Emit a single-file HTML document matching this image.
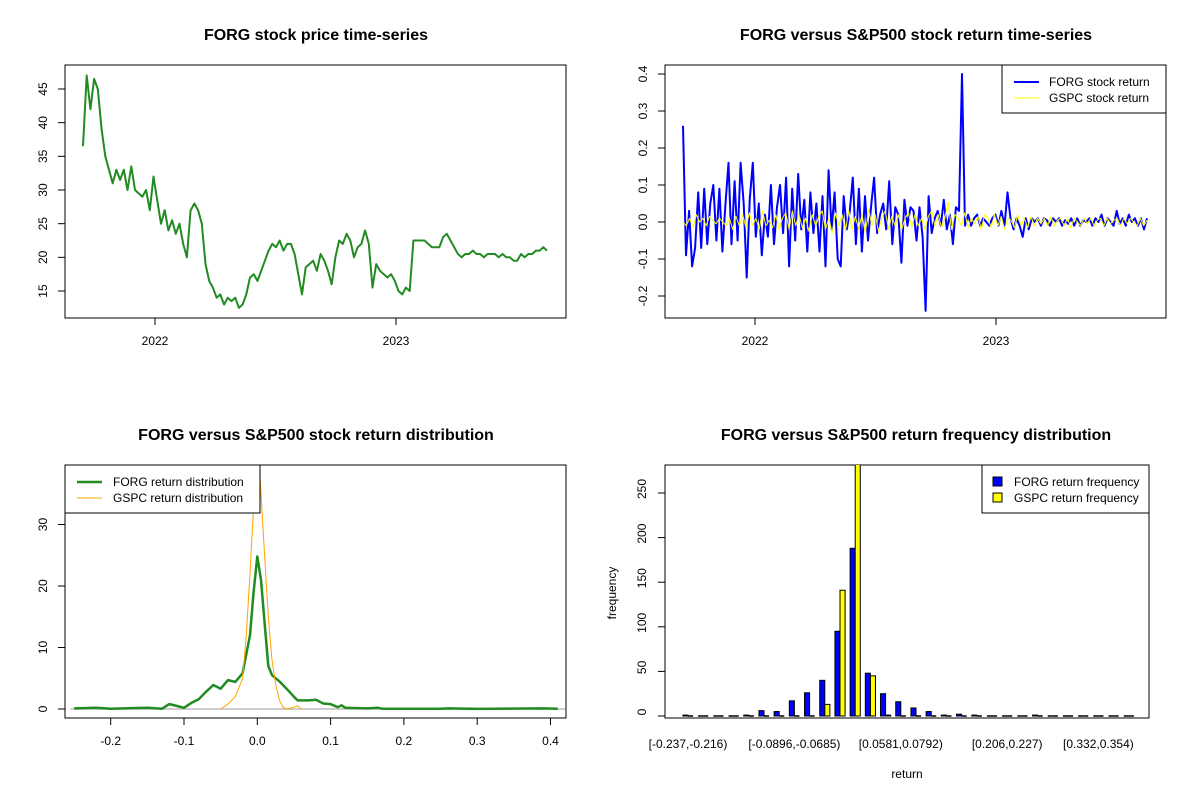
<!DOCTYPE html>
<html><head><meta charset="utf-8"><style>
body{margin:0;background:#fff;}
svg{display:block;font-family:"Liberation Sans",Arial,sans-serif;}
.t{font-weight:bold;font-size:16px;text-anchor:middle;}
.tk{font-size:12px;}
</style></head><body>
<svg id="s" width="1200" height="800" viewBox="0 0 1200 800">
<rect width="1200" height="800" fill="#fff"/>
<defs>
<clipPath id="c1"><rect x="65" y="65" width="501" height="253"/></clipPath>
<clipPath id="c2"><rect x="665" y="65" width="501" height="253"/></clipPath>
<clipPath id="c3"><rect x="65" y="465" width="501" height="253"/></clipPath>
<clipPath id="c4"><rect x="665" y="465" width="484" height="253"/></clipPath>
</defs>
<text class="t" x="316" y="40">FORG stock price time-series</text>
<text class="t" x="916" y="40">FORG versus S&amp;P500 stock return time-series</text>
<text class="t" x="316" y="440">FORG versus S&amp;P500 stock return distribution</text>
<text class="t" x="916" y="440">FORG versus S&amp;P500 return frequency distribution</text>
<g id="g1"></g>
<g id="g2"></g>
<g id="g3"></g>
<g id="g4"></g>
</svg>
<script>
const priceValues=[36.5,47,42,46.5,45,39,35,33,31,33,31.5,33,30,33.5,30,29.5,29,30,27,32,28.5,25,27,24,25.5,23.5,25,22,20,27,28,27,25,19,16.5,15.5,14,14.5,13,14,13.5,14,12.5,13,14.5,17,17.5,16.5,18,19.5,21,22,21.5,22.5,21,22,22,20.5,17.5,14.5,18.5,19,19.5,18,20.5,19.5,18,16,20,22.5,22,23.5,22.5,20,21.5,22,24,22,15.5,19,18,17.5,17,17.5,16.5,15,14.5,15.5,15,22.5,22.5,22.5,22.5,22,21.5,21.5,21.5,23,23.5,22.5,21.5,20.5,20,20.5,20.5,21,20.5,20.5,20,20.5,20.5,20.5,20,20.5,20,20,19.5,19.5,20.5,20,20.5,20.5,21,21,21.5,21];
const priceTicks=[15,20,25,30,35,40,45];
const yearTicks=["2022","2023"];
const forgReturns=[0.26,-0.09,0.03,-0.12,-0.07,0.08,-0.07,0.09,-0.06,0.05,0.1,-0.05,0.09,-0.08,0.05,0.16,-0.06,0.11,-0.05,0.16,0.05,-0.15,0.06,0.16,-0.04,0.05,-0.09,0.02,-0.04,0.1,-0.06,0.04,0.1,-0.03,0.12,-0.12,0.09,-0.05,0.13,-0.02,0.06,-0.08,0.08,-0.03,0.05,-0.08,0.07,-0.12,0.14,-0.02,0.08,-0.1,-0.12,0.07,-0.02,0.03,0.12,-0.06,0.09,-0.08,0.07,-0.05,0.04,0.12,-0.03,0.02,0.05,-0.02,0.11,-0.06,0.04,0.02,-0.11,0.06,-0.01,0.04,0.03,-0.05,0.04,-0.04,-0.24,0.07,-0.03,0.01,0.03,-0.01,0.06,-0.02,0.02,-0.06,0.04,0.03,0.4,-0.01,0.02,-0.01,0.01,0.02,-0.01,0.01,0.0,-0.01,0.01,0.02,-0.01,0.03,-0.01,0.08,0.01,-0.02,0.01,-0.01,-0.04,0.01,-0.02,0.01,0.0,0.01,-0.01,0.01,0.005,-0.01,0.01,0.0,0.01,-0.01,0.005,-0.005,0.01,-0.01,0.01,-0.01,0.005,0.0,0.01,-0.01,0.01,0.0,0.02,-0.01,0.01,0.0,-0.01,0.03,-0.005,0.01,-0.01,0.02,0.0,0.01,-0.01,0.01,-0.02,0.01];
const gspcReturns=[0,-0.01,0.01,-0.015,0.02,0,0.01,-0.01,0.015,0.005,-0.005,0.01,0,-0.01,0.01,-0.02,0.015,-0.01,0.02,-0.015,0.025,-0.01,0.01,-0.02,0.03,-0.01,0.005,-0.015,0.02,-0.02,0.01,0.025,-0.02,0.03,-0.01,0.02,-0.015,0.01,-0.025,0.02,-0.01,0.015,0.03,-0.02,0.01,-0.03,0.025,-0.01,0.02,-0.025,0.03,-0.02,0.015,-0.02,0.02,-0.03,0.035,-0.01,0.02,-0.025,0.01,0.03,-0.02,0.015,-0.01,0.02,-0.02,0.01,0.025,-0.015,0.02,-0.01,0.01,-0.02,0.015,0.03,-0.01,0.02,-0.015,0.01,0.055,-0.02,0.02,0.01,-0.01,0.025,-0.015,0.01,-0.005,0.015,-0.02,0.02,0.01,-0.015,0.02,-0.01,0.015,-0.02,0.01,0.005,-0.015,0.02,-0.01,0.01,-0.015,0.015,-0.01,0.01,-0.005,0.01,-0.01,0.015,-0.01,0.005,0.01,-0.01,0.01,-0.015,0.01,0,-0.01,0.01,-0.005,0.01,-0.01,0.005,0.01,-0.01,0.01,-0.005,0.005,0.01,-0.01,0.01,-0.005,0.01,0,-0.01,0.01,-0.01,0.005];
const returnTicks=[-0.2,-0.1,0,0.1,0.2,0.3,0.4];
const forgDensX=[-0.25,-0.22,-0.2,-0.15,-0.13,-0.12,-0.11,-0.1,-0.09,-0.08,-0.07,-0.06,-0.05,-0.04,-0.03,-0.02,-0.01,-0.005,0,0.005,0.01,0.015,0.02,0.03,0.04,0.05,0.055,0.07,0.08,0.09,0.1,0.11,0.115,0.12,0.15,0.165,0.17,0.25,0.26,0.3,0.39,0.41];
const forgDensY=[0.1,0.2,0.05,0.2,0.05,0.8,0.5,0.2,1,1.6,2.8,3.9,3.3,4.7,4.4,5.8,12,19,24.8,21,14,7,5.5,4.5,3.3,2,1.4,1.4,1.5,0.9,0.8,0.3,0.6,0.2,0.1,0.2,0.05,0.05,0.1,0.02,0.1,0.05];
const gspcDensX=[-0.05,-0.04,-0.03,-0.02,-0.015,-0.01,-0.005,0,0.005,0.01,0.015,0.02,0.025,0.03,0.035,0.04,0.05,0.055,0.06];
const gspcDensY=[0,0.8,2,5,12,22,33,45,35,25,15,8,4,1.5,0.3,0,0.3,0.5,0];
const densXTicks=[-0.2,-0.1,0,0.1,0.2,0.3,0.4];
const densYTicks=[0,10,20,30];
const binLabels=["[-0.237,-0.216)","[-0.0896,-0.0685)","[0.0581,0.0792)","[0.206,0.227)","[0.332,0.354)"];
const binLabelIdx=[0,7,14,21,27];
const forgFreq=[1,0,0,0,1,6,5,17,26,40,95,188,48,25,16,9,5,1,2,1,0,0,0,1,0,0,0,0,0,0];
const gspcFreq=[0,0,0,0,0,0,0,0,0,13,141,300,45,1,0,0,0,0,0,0,0,0,0,0,0,0,0,0,0,0];
const freqTicks=[0,50,100,150,200,250];

const NS="http://www.w3.org/2000/svg";
function mk(p,tag,a,txt){const e=document.createElementNS(NS,tag);for(const k in a)e.setAttribute(k,a[k]);if(txt!==undefined)e.textContent=txt;p.appendChild(e);return e;}
function box(g,x,y,w,h){const r=mk(g,'rect',{x:x,y:y,width:w,height:h,fill:'none',stroke:'#000','stroke-width':1});}
function yAxis(g,ticks,sy,x0,fmt){
 const ln=mk(g,'line',{x1:x0,x2:x0,y1:sy(ticks[0]),y2:sy(ticks[ticks.length-1]),stroke:'#000'});
 
 ticks.forEach(v=>{const y=sy(v);mk(g,'line',{x1:x0-7,x2:x0,y1:y,y2:y,stroke:'#000'});
 const t=mk(g,'text',{class:'tk',x:x0-18,y:y,'text-anchor':'middle',transform:`rotate(-90 ${x0-18} ${y})`},fmt(v));
 });
}
function xAxis(g,ticks,sx,y0,fmt){
 const ln=mk(g,'line',{x1:sx(ticks[0]),x2:sx(ticks[ticks.length-1]),y1:y0,y2:y0,stroke:'#000'});
 
 ticks.forEach(v=>{const x=sx(v);mk(g,'line',{x1:x,x2:x,y1:y0,y2:y0+7,stroke:'#000'});
 const t=mk(g,'text',{class:'tk',x:x,y:y0+27,'text-anchor':'middle'},fmt(v));
 });
}
function path(g,xs,ys,color,w,clip,name){
 let d='';xs.forEach((x,i)=>{d+=(i?'L':'M')+x.toFixed(1)+','+ys[i].toFixed(1);});
 const p=mk(g,'path',{d:d,fill:'none',stroke:color,'stroke-width':w,'clip-path':`url(#${clip})`,'stroke-linejoin':'round'});
 
}
const f1=v=>v.toFixed(1);

{const g=document.getElementById('g1');
 const sy=v=>291-(v-15)*6.733;
 const x0=83,x1=547;const sx=i=>x0+(x1-x0)*i/(priceValues.length-1);
 box(g,65,65,501,253);
 yAxis(g,priceTicks,sy,65,v=>String(v));
 const yearX=y=>155+241*(+y-2022);
 xAxis(g,yearTicks,yearX,318,v=>v);
 path(g,priceValues.map((v,i)=>sx(i)),priceValues.map(sy),'#228B22',2,'c1','price-line');}

{const g=document.getElementById('g2');
 const sy=v=>222-v*370;
 box(g,665,65,501,253);
 yAxis(g,returnTicks,sy,665,f1);
 xAxis(g,yearTicks,y=>755+241*(+y-2022),318,v=>v);
 const x0=683,x1=1147;
 path(g,forgReturns.map((v,i)=>x0+(x1-x0)*i/(forgReturns.length-1)),forgReturns.map(sy),'#0000FF',2,'c2','forg-return-line');
 path(g,gspcReturns.map((v,i)=>x0+(x1-x0)*i/(gspcReturns.length-1)),gspcReturns.map(sy),'#FFFF00',1,'c2','gspc-return-line');
 const lg=mk(g,'g',{});
 mk(lg,'rect',{x:1002,y:65,width:164,height:48,fill:'#fff',stroke:'#000'});
 mk(lg,'line',{x1:1014,x2:1039,y1:82,y2:82,stroke:'#0000FF','stroke-width':2});
 mk(lg,'line',{x1:1014,x2:1039,y1:98,y2:98,stroke:'#FFFF00','stroke-width':1});
 mk(lg,'text',{class:'tk',x:1049,y:86},'FORG stock return');
 mk(lg,'text',{class:'tk',x:1049,y:102},'GSPC stock return');}

{const g=document.getElementById('g3');
 const sx=v=>257.3+v*733;const sy=v=>709-v*6.15;
 box(g,65,465,501,253);
 yAxis(g,densYTicks,sy,65,v=>String(v));
 xAxis(g,densXTicks,sx,718,f1);
 const bl=mk(g,'line',{x1:sx(-0.255),x2:sx(0.42),y1:sy(0),y2:sy(0),stroke:'#bebebe','stroke-width':1.5,'clip-path':'url(#c3)'});
 
 path(g,forgDensX.map(sx),forgDensY.map(sy),'#228B22',2.5,'c3','forg-density-line');
 path(g,gspcDensX.map(sx),gspcDensY.map(sy),'#FFA500',1,'c3','gspc-density-line');
 const lg=mk(g,'g',{});
 mk(lg,'rect',{x:65,y:465,width:195,height:48,fill:'#fff',stroke:'#000'});
 mk(lg,'line',{x1:77,x2:102,y1:482,y2:482,stroke:'#228B22','stroke-width':2.5});
 mk(lg,'line',{x1:77,x2:102,y1:498,y2:498,stroke:'#FFA500','stroke-width':1});
 mk(lg,'text',{class:'tk',x:113,y:486},'FORG return distribution');
 mk(lg,'text',{class:'tk',x:113,y:502},'GSPC return distribution');}

{const g=document.getElementById('g4');
 const sy=v=>716-v*0.892;const cx=i=>688+15.2*i;const bw=5.07;
 box(g,665,465,484,253);
 freqTicks.forEach(v=>{const y=sy(v);mk(g,'line',{x1:658,x2:665,y1:y,y2:y,stroke:'#000'});
  const t=mk(g,'text',{class:'tk',x:646,y:y+4,'text-anchor':'middle',transform:`rotate(-90 642 ${y})`},String(v));
  });
 function bar(x,v,color,name){
  if(v===0){const l=mk(g,'line',{x1:x,x2:x+bw,y1:sy(0),y2:sy(0),stroke:'#000','stroke-width':1.5});
   return;}
  const r=mk(g,'rect',{x:x,y:sy(v),width:bw,height:sy(0)-sy(v),fill:color,stroke:'#000','stroke-width':1,'clip-path':'url(#c4)'});
  
 }
 forgFreq.forEach((v,i)=>bar(cx(i)-bw,v,'#0000FF','forg-bar'));
 gspcFreq.forEach((v,i)=>bar(cx(i),v,'#FFFF00','gspc-bar'));
 binLabels.forEach((s,k)=>{const t=mk(g,'text',{class:'tk',x:cx(binLabelIdx[k]),y:748,'text-anchor':'middle'},s);
  });
 const xt=mk(g,'text',{class:'tk',x:907,y:778,'text-anchor':'middle'},'return');
 
 const yt=mk(g,'text',{class:'tk',x:616,y:593,'text-anchor':'middle',transform:'rotate(-90 616 593)'},'frequency');
 
 const lg=mk(g,'g',{});
 mk(lg,'rect',{x:982,y:465,width:167,height:48,fill:'#fff',stroke:'#000'});
 mk(lg,'rect',{x:993,y:477,width:9,height:9,fill:'#0000FF',stroke:'#000'});
 mk(lg,'rect',{x:993,y:493,width:9,height:9,fill:'#FFFF00',stroke:'#000'});
 mk(lg,'text',{class:'tk',x:1014,y:486},'FORG return frequency');
 mk(lg,'text',{class:'tk',x:1014,y:502},'GSPC return frequency');}
</script>
</body></html>
